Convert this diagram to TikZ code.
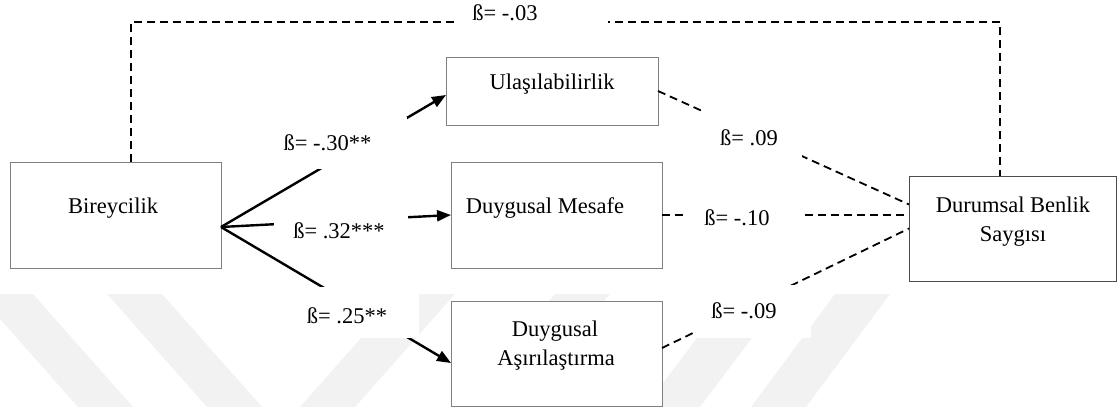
\documentclass[tikz,border=0pt]{standalone}
\usepackage{fontspec}
\setmainfont{Liberation Serif}
\usetikzlibrary{arrows.meta,backgrounds}
\begin{document}
\begin{tikzpicture}[x=1pt,y=-1pt,
  box/.style={draw=black!50,line width=1pt,fill=white,inner sep=0pt,outer sep=0pt},
  txt/.style={font=\fontsize{22.5pt}{27pt}\selectfont,inner sep=0pt,anchor=base},
  wbox/.style={fill=white,inner sep=0pt,outer sep=0pt},
  sarr/.style={line width=2.4pt,-{Triangle[length=14pt,width=11pt]}},
  dln/.style={line width=1.8pt,dash pattern=on 8pt off 5pt},
  wm/.style={fill=black!5}]
\useasboundingbox (0,0) rectangle (1117,407);

% boxes
\node[box,minimum width=211pt,minimum height=106pt] (bir) at (115.5,215) {};
\node[box,minimum width=212pt,minimum height=68pt] (ula) at (552,91) {};
\node[box,minimum width=211pt,minimum height=106pt] (mes) at (556.5,215) {};
\node[box,minimum width=211pt,minimum height=105pt] (asi) at (556.5,353.5) {};
\node[box,draw=black!70,minimum width=207pt,minimum height=105pt] (dur) at (1012.5,228.5) {};

% box texts
\node[txt] (bir-t) at (113,213) {Bireycilik};
\node[txt] (ula-t) at (552,89) {Ulaşılabilirlik};
\node[txt] (mes-t) at (545,213) {Duygusal Mesafe};
\node[txt] (asi-t1) at (555,336) {Duygusal};
\node[txt] (asi-t2) at (556,365) {Aşırılaştırma};
\node[txt] (dur-t1) at (1013,212) {Durumsal Benlik};
\node[txt] (dur-t2) at (1013,241) {Saygısı};

% connectors
\coordinate (fan) at ([yshift=-12pt]bir.east);
\draw[sarr] (fan) -- ([yshift=-4pt]ula.west);
\draw[sarr] (fan) -- (mes.west);
\draw[sarr] (fan) -- ([yshift=-9.5pt]asi.west);
\draw[dln] (ula.east) -- ([yshift=24pt]dur.west);
\draw[dln] (mes.east) -- ([yshift=13.5pt]dur.west);
\draw[dln] ([yshift=5.5pt]asi.east) -- (dur.west);
\coordinate (topy) at (530,22);
\draw[dln] ([xshift=15.5pt]bir.north) |- (topy) -| ([xshift=-12.5pt]dur.north);

% label boxes and labels
\node[wbox,minimum width=153pt,minimum height=36pt] (b03) at (531.5,20) {};
\node[txt] (l03) at (505,20) {ß= -.03};
\node[wbox,minimum width=137pt,minimum height=52pt] (b30) at (338.5,143) {};
\node[txt] (l30) at (327.5,150) {ß= -.30**};
\node[wbox,minimum width=134pt,minimum height=50pt] (b32) at (341,225) {};
\node[txt] (l32) at (339,238) {ß= .32***};
\node[wbox,minimum width=119pt,minimum height=51pt] (b25) at (359.5,312.5) {};
\node[txt] (l25) at (347,323) {ß= .25**};
\node[wbox,minimum width=101pt,minimum height=55pt] (b09a) at (751.5,132.5) {};
\node[txt] (l09a) at (749,145) {ß= .09};
\node[wbox,minimum width=114pt,minimum height=35pt] (b10) at (745,217.5) {};
\node[txt] (l10) at (737,225) {ß= -.10};
\node[wbox,minimum width=118pt,minimum height=53.5pt] (b09b) at (752,311.25) {};
\node[txt] (l09b) at (744,318.5) {ß= -.09};

% watermark
\begin{pgfonlayer}{background}
\fill[wm] (-22,294) -- (33,294) -- (133,407) -- (78,407) -- cycle;
\fill[wm] (107,294) -- (162,294) -- (262,407) -- (207,407) -- cycle;
\fill[wm] (400,294) -- (455,294) -- (355,407) -- (300,407) -- cycle;
\fill[wm] (555,294) -- (610,294) -- (510,407) -- (455,407) -- cycle;
\fill[wm] (730,294) -- (785,294) -- (700,407) -- (645,407) -- cycle;
\fill[wm] (835,294) -- (890,294) -- (806,407) -- (751,407) -- cycle;
\end{pgfonlayer}
\end{tikzpicture}
\end{document}
